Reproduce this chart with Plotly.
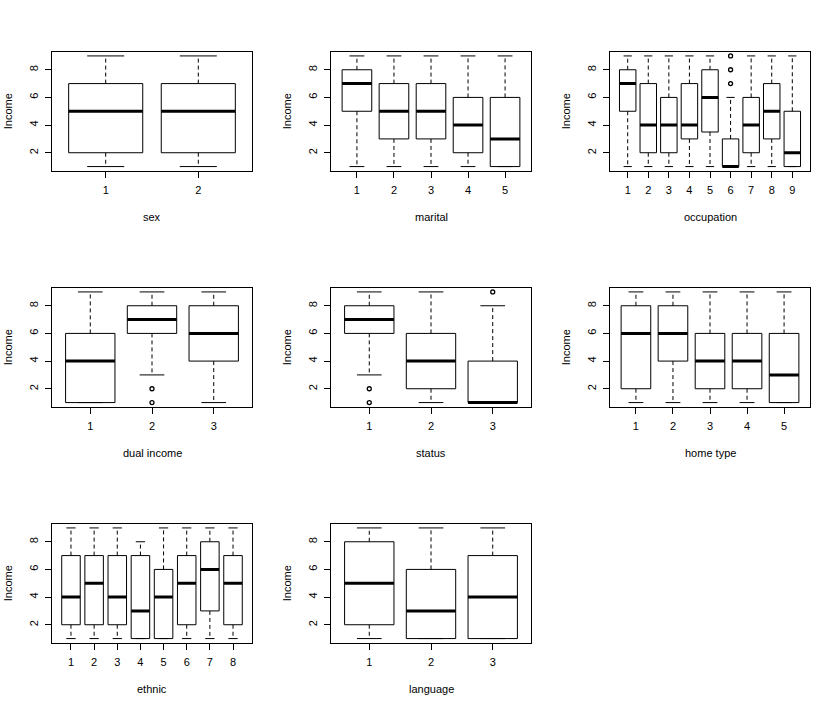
import plotly.graph_objects as go

W, H = 837, 708
y_title = "Income"

# ---- data: five-number summaries (lower whisker, Q1, median, Q3, upper whisker) + outliers
sex_cats = ["1", "2"]
sex_low = [1, 1]
sex_q1 = [2, 2]
sex_med = [5, 5]
sex_q3 = [7, 7]
sex_high = [9, 9]
sex_out = [[], []]

marital_cats = ["1", "2", "3", "4", "5"]
marital_low = [1, 1, 1, 1, 1]
marital_q1 = [5, 3, 3, 2, 1]
marital_med = [7, 5, 5, 4, 3]
marital_q3 = [8, 7, 7, 6, 6]
marital_high = [9, 9, 9, 9, 9]
marital_out = [[], [], [], [], []]

occupation_cats = ["1", "2", "3", "4", "5", "6", "7", "8", "9"]
occupation_low = [1, 1, 1, 1, 1, 1, 1, 1, 1]
occupation_q1 = [5, 2, 2, 3, 3.5, 1, 2, 3, 1]
occupation_med = [7, 4, 4, 4, 6, 1, 4, 5, 2]
occupation_q3 = [8, 7, 6, 7, 8, 3, 6, 7, 5]
occupation_high = [9, 9, 9, 9, 9, 6, 9, 9, 9]
occupation_out = [[], [], [], [], [], [7, 8, 9], [], [], []]

dual_cats = ["1", "2", "3"]
dual_low = [1, 3, 1]
dual_q1 = [1, 6, 4]
dual_med = [4, 7, 6]
dual_q3 = [6, 8, 8]
dual_high = [9, 9, 9]
dual_out = [[], [1, 2], []]

status_cats = ["1", "2", "3"]
status_low = [3, 1, 1]
status_q1 = [6, 2, 1]
status_med = [7, 4, 1]
status_q3 = [8, 6, 4]
status_high = [9, 9, 8]
status_out = [[1, 2], [], [9]]

home_cats = ["1", "2", "3", "4", "5"]
home_low = [1, 1, 1, 1, 1]
home_q1 = [2, 4, 2, 2, 1]
home_med = [6, 6, 4, 4, 3]
home_q3 = [8, 8, 6, 6, 6]
home_high = [9, 9, 9, 9, 9]
home_out = [[], [], [], [], []]

ethnic_cats = ["1", "2", "3", "4", "5", "6", "7", "8"]
ethnic_low = [1, 1, 1, 1, 1, 1, 1, 1]
ethnic_q1 = [2, 2, 2, 1, 1, 2, 3, 2]
ethnic_med = [4, 5, 4, 3, 4, 5, 6, 5]
ethnic_q3 = [7, 7, 7, 7, 6, 7, 8, 7]
ethnic_high = [9, 9, 9, 8, 9, 9, 9, 9]
ethnic_out = [[], [], [], [], [], [], [], []]

language_cats = ["1", "2", "3"]
language_low = [1, 1, 1]
language_q1 = [2, 1, 1]
language_med = [5, 3, 4]
language_q3 = [8, 6, 7]
language_high = [9, 9, 9]
language_out = [[], [], []]

y_ticks = [2, 4, 6, 8]
y_min, y_max = 1, 9

panels = [
    ("sex", sex_cats, sex_low, sex_q1, sex_med, sex_q3, sex_high, sex_out),
    ("marital", marital_cats, marital_low, marital_q1, marital_med, marital_q3, marital_high, marital_out),
    ("occupation", occupation_cats, occupation_low, occupation_q1, occupation_med, occupation_q3, occupation_high, occupation_out),
    ("dual income", dual_cats, dual_low, dual_q1, dual_med, dual_q3, dual_high, dual_out),
    ("status", status_cats, status_low, status_q1, status_med, status_q3, status_high, status_out),
    ("home type", home_cats, home_low, home_q1, home_med, home_q3, home_high, home_out),
    ("ethnic", ethnic_cats, ethnic_low, ethnic_q1, ethnic_med, ethnic_q3, ethnic_high, ethnic_out),
    ("language", language_cats, language_low, language_q1, language_med, language_q3, language_high, language_out),
]

# ---- layout geometry (pixels)
PX0, PW, COLSTEP = 52, 200, 279
PY0, PH, ROWSTEP = 51.5, 119.5, 236
FONT = "Liberation Sans, Arial, sans-serif"
FS = 11
BOXHALF = 0.4
CAPHALF = 0.2

fig = go.Figure()
annotations = []
layout = {}

for i, (name, cats, low, q1, med, q3, high, outs) in enumerate(panels):
    r, c = divmod(i, 3)
    n = len(cats)
    ax = "" if i == 0 else str(i + 1)
    xref, yref = "x" + ax, "y" + ax
    x0 = PX0 + COLSTEP * c
    y0 = PY0 + ROWSTEP * r

    bx, by, mx, my, wx, wy, sx, sy, ox, oy = [], [], [], [], [], [], [], [], [], []
    for k in range(n):
        x = k + 1
        bx += [x - BOXHALF, x + BOXHALF, x + BOXHALF, x - BOXHALF, x - BOXHALF, None]
        by += [q1[k], q1[k], q3[k], q3[k], q1[k], None]
        mx += [x - BOXHALF, x + BOXHALF, None]
        my += [med[k], med[k], None]
        wx += [x, x, None, x, x, None]
        wy += [q3[k], high[k], None, q1[k], low[k], None]
        sx += [x - CAPHALF, x + CAPHALF, None, x - CAPHALF, x + CAPHALF, None]
        sy += [high[k], high[k], None, low[k], low[k], None]
        for v in outs[k]:
            ox.append(x)
            oy.append(v)

    common = dict(xaxis=xref, yaxis=yref, showlegend=False, hoverinfo="skip", mode="lines")
    fig.add_trace(go.Scatter(x=wx, y=wy, line=dict(color="black", width=1, dash="4px,3px"), **common))
    fig.add_trace(go.Scatter(x=sx, y=sy, line=dict(color="black", width=1), **common))
    fig.add_trace(go.Scatter(x=bx, y=by, line=dict(color="black", width=1), **common))
    fig.add_trace(go.Scatter(x=mx, y=my, line=dict(color="black", width=3), **common))
    if ox:
        fig.add_trace(go.Scatter(x=ox, y=oy, mode="markers", xaxis=xref, yaxis=yref,
                                 showlegend=False, hoverinfo="skip",
                                 marker=dict(symbol="circle-open", size=4, color="black",
                                             line=dict(width=1.3, color="black"))))

    pad = 0.04 * n
    layout["xaxis" + ax] = dict(
        domain=[x0 / W, (x0 + PW) / W], anchor=yref,
        range=[0.5 - pad, n + 0.5 + pad],
        tickmode="array", tickvals=list(range(1, n + 1)), ticktext=cats,
        ticks="outside", ticklen=6, tickcolor="black", tickwidth=1,
        showline=True, linecolor="black", linewidth=1, mirror=True,
        showgrid=False, zeroline=False, fixedrange=True,
        tickfont=dict(family=FONT, size=FS, color="black"),
        ticklabelstandoff=3,
    )
    pad_y = 0.04 * (y_max - y_min)
    layout["yaxis" + ax] = dict(
        domain=[1 - (y0 + PH) / H, 1 - y0 / H], anchor=xref,
        range=[y_min - pad_y, y_max + pad_y],
        tickmode="array", tickvals=y_ticks, ticktext=[str(t) for t in y_ticks],
        tickangle=-90,
        ticks="outside", ticklen=6, tickcolor="black", tickwidth=1,
        showline=True, linecolor="black", linewidth=1, mirror=True,
        showgrid=False, zeroline=False, fixedrange=True,
        tickfont=dict(family=FONT, size=FS, color="black"),
        ticklabelstandoff=3,
    )

    annotations.append(dict(
        text=name, xref="paper", yref="paper",
        x=(x0 + PW / 2) / W, y=1 - (y0 + PH + 46) / H,
        xanchor="center", yanchor="middle", showarrow=False,
        font=dict(family=FONT, size=FS, color="black"),
    ))
    annotations.append(dict(
        text=y_title, xref="paper", yref="paper",
        x=(8 + COLSTEP * c) / W, y=1 - (y0 + PH / 2) / H,
        xanchor="center", yanchor="middle", showarrow=False, textangle=-90,
        font=dict(family=FONT, size=FS, color="black"),
    ))

fig.update_layout(
    width=W, height=H,
    margin=dict(l=0, r=0, t=0, b=0),
    paper_bgcolor="white", plot_bgcolor="white",
    annotations=annotations,
    **layout,
)

fig.write_html("out.html")
